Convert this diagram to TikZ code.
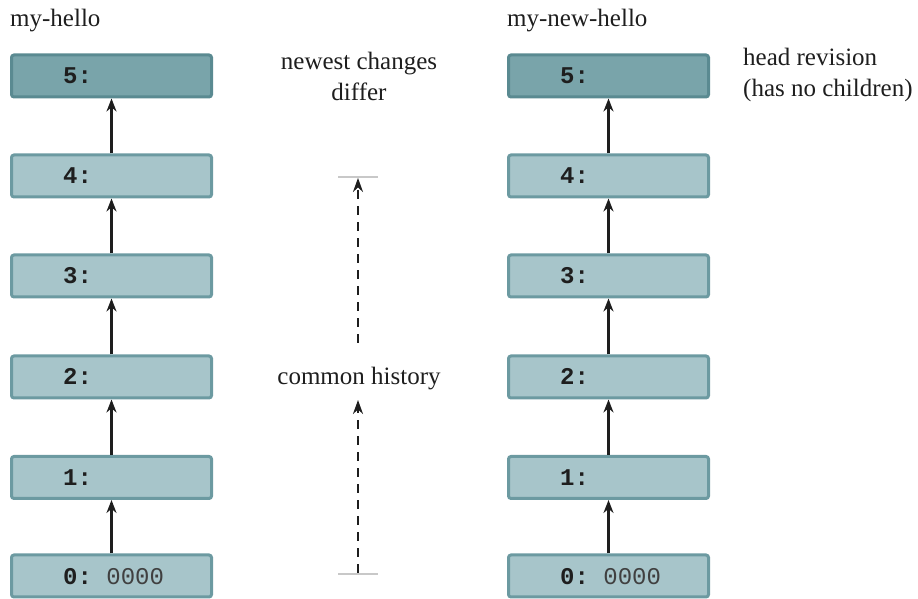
\documentclass[tikz,border=0pt]{standalone}
\usepackage{fontspec}
\setmainfont{Liberation Serif}
\setmonofont{Liberation Mono}
\usetikzlibrary{arrows.meta,calc}
\definecolor{lightfill}{RGB}{167,197,202}
\definecolor{lightedge}{RGB}{108,154,161}
\definecolor{darkfill}{RGB}{121,164,170}
\definecolor{darkedge}{RGB}{90,138,145}
\definecolor{txt}{RGB}{30,30,30}
\definecolor{tick}{RGB}{200,200,200}
\tikzset{
  revbox/.style={draw=lightedge, fill=lightfill, line width=3pt, rounded corners=2.5pt,
    minimum width=200pt, minimum height=42pt, inner sep=0pt},
  headbox/.style={revbox, draw=darkedge, fill=darkfill},
  revlabel/.style={anchor=base west, inner sep=0pt, font=\fontsize{24}{28}\selectfont\ttfamily\bfseries, text=txt},
  caption/.style={inner sep=0pt, font=\fontsize{25}{31}\selectfont, text=txt},
  parent/.style={draw=txt, line width=2.2pt, -{Stealth[length=13pt,width=10pt]}},
  hist/.style={draw=txt, line width=2.2pt, dash pattern=on 9pt off 7pt, -{Stealth[length=14pt,width=10pt]}},
  tickline/.style={draw=tick, line width=1.6pt},
}
\begin{document}
\begin{tikzpicture}[x=1pt,y=1pt]
\useasboundingbox (0,0) rectangle (918,599);
\foreach \side/\cx in {L/111.5, R/608.5}{
  \node[revbox]  (\side0) at (\cx,599-576) {};
  \node[revbox]  (\side1) at (\cx,599-477.5) {};
  \node[revbox]  (\side2) at (\cx,599-377) {};
  \node[revbox]  (\side3) at (\cx,599-276) {};
  \node[revbox]  (\side4) at (\cx,599-176) {};
  \node[headbox] (\side5) at (\cx,599-76) {};
}
\foreach \side in {L,R}{
  \foreach \i in {1,...,5}{
    \node[revlabel] (\side t\i) at ($(\side\i.west)+(53,-8)$) {\i:};
  }
  \node[revlabel] (\side t0) at ($(\side0.west)+(53,-8.5)$) {0:\ {\mdseries\color{txt!85}0000}};
  \draw[parent] (\side0) -- (\side1);
  \draw[parent] (\side1) -- (\side2);
  \draw[parent] (\side2) -- (\side3);
  \draw[parent] (\side3) -- (\side4);
  \draw[parent] (\side4) -- (\side5);
}
\node[caption, anchor=base west] (lt) at (10,599-27) {my-hello};
\node[caption, anchor=base west] (rt) at (507,599-27) {my-new-hello};
\node[caption, anchor=base, align=center] (newest) at (359,599-101) {newest changes\\differ};
\node[caption, anchor=base west, align=left] (head) at (743,599-97) {head revision\\(has no children)};
\node[caption, anchor=base] (common) at (359,599-385) {common history};
\coordinate (ua) at (358,599-343);
\coordinate (ub) at (358,599-178);
\coordinate (ta1) at (338,599-177);
\coordinate (ta2) at (378,599-177);
\coordinate (la) at (358,599-573);
\coordinate (lb) at (358,599-400);
\coordinate (tb1) at (338,599-574);
\coordinate (tb2) at (378,599-574);
\draw[tickline] (ta1) -- (ta2);
\draw[tickline] (tb1) -- (tb2);
\draw[hist] (ua) -- (ub);
\draw[hist] (la) -- (lb);
\end{tikzpicture}
\end{document}
